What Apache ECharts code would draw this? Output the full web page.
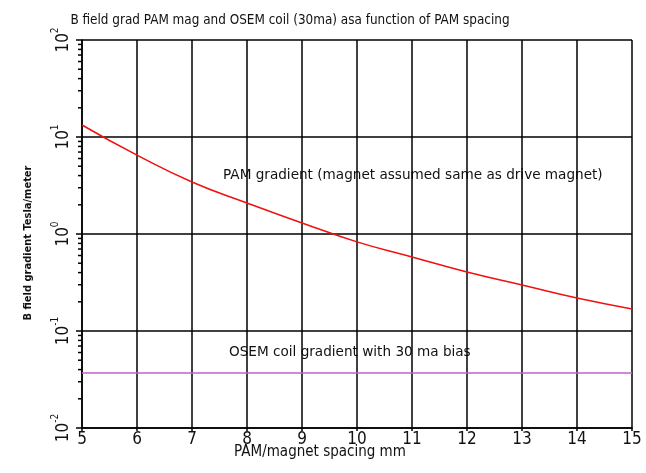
<!DOCTYPE html>
<html>
<head>
<meta charset="utf-8">
<script src="https://cdn.jsdelivr.net/npm/echarts@6/dist/echarts.min.js"></script>
<style>
html,body{margin:0;padding:0;background:#fff;}
#c{width:646px;height:473px;}
</style>
</head>
<body>
<div id="c"></div>
<script>
// ---- data ----
const spacing = [5, 6, 7, 8, 9, 10, 11, 12, 13, 14, 15];
const pamGradient = [13.3, 6.5, 3.44, 2.09, 1.30, 0.83, 0.58, 0.405, 0.298, 0.219, 0.169];
const osemSpacing = [5, 15];
const osemGradient = [0.037, 0.037];
const xTicks = [5, 6, 7, 8, 9, 10, 11, 12, 13, 14, 15];
const yDecades = [0.01, 0.1, 1, 10, 100];
const minorTickValues = [
  0.02,0.03,0.04,0.05,0.06,0.07,0.08,0.09,
  0.2,0.3,0.4,0.5,0.6,0.7,0.8,0.9,
  2,3,4,5,6,7,8,9,
  20,30,40,50,60,70,80,90
];
const titleText = 'B field grad PAM mag and OSEM coil (30ma) asa function of PAM spacing';
const xName = 'PAM/magnet spacing mm';
const yName = 'B field gradient Tesla/meter';
const pamLabel = 'PAM gradient (magnet assumed same as drive magnet)';
const osemLabel = 'OSEM coil gradient with 30 ma bias';

const narrow = '"Liberation Sans Narrow", "DejaVu Sans Condensed", sans-serif';
const annoFont = '13.6px "DejaVu Sans", sans-serif';

const chart = echarts.init(document.getElementById('c'), null, {renderer: 'canvas'});
const baseGraphic = [
  {id: 'pam', type: 'text', left: 223, top: 168,
   style: {text: pamLabel, font: annoFont, fill: '#111'}},
  {id: 'osem', type: 'text', left: 229, top: 345,
   style: {text: osemLabel, font: annoFont, fill: '#111'}},
  {id: 'xname', type: 'text', x: 320, y: 452,
   style: {text: xName, font: '15px ' + narrow, fill: '#111', align: 'center', verticalAlign: 'middle'}},
  {id: 'yname', type: 'text', x: 28, y: 243, rotation: Math.PI / 2,
   style: {text: yName, font: 'bold 11px ' + narrow, fill: '#111', align: 'center', verticalAlign: 'middle'}}
];
chart.setOption({
  animation: false,
  backgroundColor: '#fff',
  title: {
    text: titleText,
    left: 285, top: 9, textAlign: 'center',
    textStyle: {fontFamily: narrow, fontSize: 13.4, fontWeight: 'normal', color: '#111'}
  },
  grid: {left: 82, right: 14, top: 40, bottom: 45},
  xAxis: {
    type: 'value', min: 5, max: 15, interval: 1,
    axisLine: {lineStyle: {color: '#000', width: 1.5}},
    axisTick: {show: true, length: 3, lineStyle: {color: '#000', width: 1.5}},
    axisLabel: {
      margin: 3, color: '#111', fontFamily: narrow, fontSize: 17,
      formatter: v => xTicks.includes(v) ? String(v) : ''
    },
    splitLine: {show: true, lineStyle: {color: '#000', width: 1.5}}
  },
  yAxis: {
    type: 'log', logBase: 10, min: 0.01, max: 100,
    axisLine: {lineStyle: {color: '#000', width: 1.5}},
    axisTick: {show: true, length: 6, lineStyle: {color: '#000', width: 1.5}},
    axisLabel: {
      rotate: 90, margin: 10, color: '#111',
      formatter: v => {
        const e = Math.round(Math.log10(v));
        return yDecades.some(d => Math.abs(d - v) / d < 1e-6) ? '{b|10}{e|' + e + '}' : '';
      },
      rich: {
        b: {fontFamily: narrow, fontSize: 17, lineHeight: 22, verticalAlign: 'bottom', color: '#111'},
        e: {fontFamily: narrow, fontSize: 10, lineHeight: 22, verticalAlign: 'top', color: '#111'}
      }
    },
    splitLine: {show: true, lineStyle: {color: '#000', width: 1.5}}
  },
  series: [
    {
      type: 'line', data: spacing.map((x, i) => [x, pamGradient[i]]),
      smooth: true, showSymbol: false, symbol: 'none',
      lineStyle: {color: '#f01010', width: 1.5}, z: 5
    },
    {
      type: 'line', data: osemSpacing.map((x, i) => [x, osemGradient[i]]),
      showSymbol: false, symbol: 'none',
      lineStyle: {color: '#c060c8', width: 1.5}, z: 5
    }
  ],
  graphic: baseGraphic
});

// minor log ticks, placed through the chart's own y scale
const minorTicks = minorTickValues.map((v, i) => {
  const p = chart.convertToPixel({gridIndex: 0}, [xTicks[0], v]);
  return {id: 'mt' + i, type: 'line', z: 10,
          shape: {x1: p[0] - 4, y1: p[1], x2: p[0], y2: p[1]},
          style: {stroke: '#000', lineWidth: 1.5}};
});
chart.setOption({graphic: baseGraphic.concat(minorTicks)});
</script>
</body>
</html>
